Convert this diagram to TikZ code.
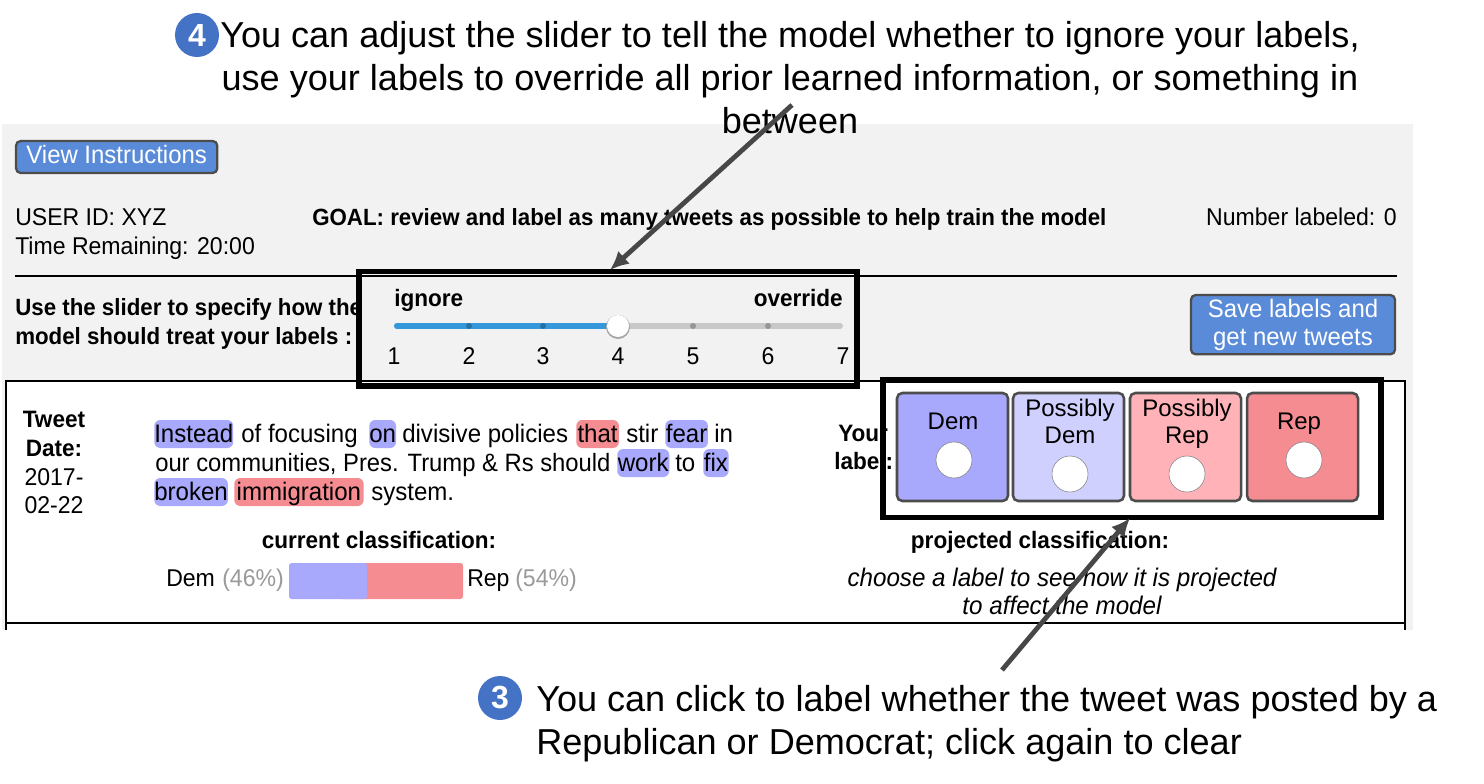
\documentclass[tikz,border=0pt]{standalone}
\usepackage{fontspec}
\usepackage{xcolor}
\usetikzlibrary{arrows.meta,positioning,fit}
\setmainfont{Liberation Sans}
\newfontfamily\uifont[FakeStretch=0.95]{Liberation Sans}
\definecolor{panelgray}{HTML}{F2F2F2}
\definecolor{btnblue}{HTML}{5A8BD8}
\definecolor{demblue}{HTML}{A8A8FC}
\definecolor{demlight}{HTML}{D0D0FE}
\definecolor{reppink}{HTML}{FFB3B8}
\definecolor{repred}{HTML}{F48C92}
\definecolor{trackblue}{HTML}{3498DB}
\definecolor{trackgray}{HTML}{C8C8C8}
\definecolor{notecircle}{HTML}{4472C4}
\definecolor{pctgray}{HTML}{9A9A9A}
\begin{document}
\begin{tikzpicture}[
    x=0.75pt,y=-0.75pt,
    note/.style={inner sep=0pt,font=\fontsize{27.05}{32.2}\selectfont},
    ui/.style={inner sep=0pt,font=\uifont\fontsize{18.2}{21}\selectfont},
    uib/.style={inner sep=0pt,font=\uifont\bfseries\fontsize{17.8}{21}\selectfont},
    uibs/.style={inner sep=0pt,font=\uifont\bfseries\fontsize{17.6}{21}\selectfont},
    tw/.style={inner sep=0pt,font=\uifont\fontsize{19}{21}\selectfont},
    hl/.style={tw,rounded corners=4.5pt,text height=16.5pt,text depth=4.5pt},
    btn/.style={draw=black!70,line width=1.7pt,outer sep=0pt,rounded corners=3.5pt,fill=btnblue,text=white,align=center,inner sep=0pt,font=\uifont\fontsize{18.9}{21}\selectfont},
    pick/.style={draw=black!70,line width=1.9pt,outer sep=0pt,rounded corners=4pt,minimum height=81pt,inner sep=0pt},
    dot/.style={circle,draw=black!50,fill=white,minimum size=27pt,inner sep=0pt},
    tick/.style={circle,fill=black,opacity=.25,minimum size=4.5pt,inner sep=0pt},
    frame/.style={draw=black,line width=4pt,outer sep=0pt,inner sep=0pt},
    num/.style={circle,fill=notecircle,text=white,minimum size=33pt,inner sep=0pt,font=\bfseries\fontsize{24}{24}\selectfont},
    arr/.style={-{Latex[length=14pt,width=13pt]},draw=black!72,line width=3.6pt}
]
\useasboundingbox (0,0) rectangle (1484,784);
% page
\node[fill=panelgray,minimum width=1411*0.75pt,minimum height=506*0.75pt,anchor=north west,inner sep=0pt] (panel) at (2,124) {};
\node[fill=white,minimum width=1399*0.75pt,minimum height=249*0.75pt,anchor=north west,inner sep=0pt] (card) at (6,381) {};
\draw[line width=0.9pt] (6,630) -- (6,381) -- (1405,381) -- (1405,630);
\draw[line width=1.8pt] (6,623) -- (1405,623);
\draw[line width=1.6pt] (15,276) -- (1397,276);

% header
\node[btn,anchor=north west,minimum width=151pt,minimum height=24pt,text height=12pt,text depth=2pt] (help) at (16,141) {View Instructions};
\node[ui,anchor=base west] (user) at (15,226) {USER ID: XYZ};
\node[ui,anchor=base west] (time) at (15,254) {Time Remaining: 20:00};
\node[uibs,anchor=base west] (goal) at (312,226) {GOAL: review and label as many tweets as possible to help train the model};
\node[ui,anchor=base east] (count) at (1397,226) {Number labeled: 0};
\node[uibs,anchor=base west] (use1) at (15,315) {Use the slider to specify how the};
\node[uibs,anchor=base west] (use2) at (15,344) {model should treat your labels :};

% slider
\node[uib,anchor=base west] (ignore) at (394,306) {ignore};
\node[uib,anchor=base east] (override) at (843,306) {override};
\draw[trackgray,line width=4.5pt,line cap=round] (397,326) -- (840,326);
\draw[trackblue,line width=4.5pt,line cap=round] (397,326) -- (618,326);
\foreach \i/\xx in {1/394,2/469,3/543,4/618,5/693,6/768,7/843}{
  \node[ui,anchor=base] (n\i) at (\xx,364) {\i};
}
\foreach \xx in {469,543,693,768}{
  \node[tick] at (\xx,326) {};
}
\node[circle,fill=black!35,minimum size=18pt,inner sep=0pt] (shade) at (618,327) {};
\node[circle,fill=white,minimum size=16.5pt,inner sep=0pt] (thumb) at (618,326) {};
\node[btn,anchor=north west,minimum width=153pt,minimum height=44.5pt] (save) at (1191,295) {Save labels and\\get new tweets};

% tweet
\node[uib,anchor=base] (tw1) at (54,427) {Tweet};
\node[uib,anchor=base] (tw2) at (54,456) {Date:};
\node[ui,anchor=base] (tw3) at (54,485) {2017-};
\node[ui,anchor=base] (tw4) at (54,513) {02-22};

\node[hl,fill=demblue,anchor=base west,minimum width=59pt] (w1) at (154,442) {Instead};
\node[tw,anchor=base west] (w2) at (241,442) {of focusing};
\node[hl,fill=demblue,anchor=base west,minimum width=20pt] (w3) at (369,442) {on};
\node[tw,anchor=base west] (w4) at (402,442) {divisive policies};
\node[hl,fill=repred,anchor=base west,minimum width=32pt] (w5) at (576,442) {that};
\node[tw,anchor=base west] (w6) at (626,442) {stir};
\node[hl,fill=demblue,anchor=base west,minimum width=32pt] (w7) at (665,442) {fear};
\node[tw,anchor=base west] (w8) at (714,442) {in};
\node[tw,anchor=base west,font=\uifont\fontsize{18.8}{21}\selectfont] (w9) at (155,471) {our communities, Pres. Trump \& Rs should};
\node[hl,fill=demblue,anchor=base west,minimum width=39pt] (w10) at (617,471) {work};
\node[tw,anchor=base west] (w11) at (675,471) {to};
\node[hl,fill=demblue,anchor=base west,minimum width=19pt] (w12) at (703,471) {fix};
\node[hl,fill=demblue,anchor=base west,minimum width=55pt] (w13) at (154,500) {broken};
\node[hl,fill=repred,anchor=base west,minimum width=97pt] (w14) at (234,500) {immigration};
\node[tw,anchor=base west] (w15) at (371,500) {system.};

% current classification
\node[uib,anchor=base] (cur) at (379,548) {current classification:};
\node[ui,anchor=base west] (demtxt) at (166,586) {Dem};
\node[ui,anchor=base west,text=pctgray] (dempct) at (222,586) {(46\%)};
\fill[repred,rounded corners=2pt] (340,563) rectangle (463,599);
\fill[demblue,rounded corners=2pt] (289,563) rectangle (367,599);
\node[inner sep=0pt,fit={(289,563) (463,599)}] (bar) {};
\node[ui,anchor=base west] (reptxt) at (467,586) {Rep};
\node[ui,anchor=base west,text=pctgray] (reppct) at (515,586) {(54\%)};

% label buttons
\node[uib,anchor=base west] (your) at (838,441) {Your};
\node[uib,anchor=base west] (lab) at (834,469) {label:};
\foreach \nm/\xl/\bw/\col/\txt/\tx/\dx/\dy in {dem/897/111/demblue/Dem/953/954/460,pdem/1013/111/demlight/{Possibly\\Dem}/1070/1070/474,prep/1130/111/reppink/{Possibly\\Rep}/1187/1187/474,rep/1247/111/repred/Rep/1299/1304/460}{
  \node[pick,fill=\col,anchor=north west,minimum width=\bw*0.75pt] (\nm) at (\xl,393) {};
  \node[dot] (\nm dot) at (\dx,\dy) {};
  \node[align=center,inner sep=0pt,anchor=south,text depth=4pt,font=\fontsize{18}{20.2}\selectfont] (\nm txt) at (\tx,\dy-24.7) {\txt};
}
\node[uib,anchor=base] (proj) at (1040,548) {projected classification:};
\node[ui,anchor=base,font=\uifont\itshape\fontsize{19.1}{21}\selectfont] (ch1) at (1062,586) {choose a label to see how it is projected};
\node[ui,anchor=base,font=\uifont\itshape\fontsize{19.1}{21}\selectfont] (ch2) at (1062,614) {to affect the model};

% marks on top
\node[frame,anchor=north west,minimum width=498*0.75pt,minimum height=114.5*0.75pt] (sliderbox) at (359,271.5) {};
\node[frame,anchor=north west,minimum width=498*0.75pt,minimum height=137.5*0.75pt] (labelbox) at (883,380) {};

% notes
\node[note,align=center] (note4) at (790,78) {You can adjust the slider to tell the model whether to ignore your labels,\\use your labels to override all prior learned information, or something in\\between};
\node[num] (badge4) at (197,35) {4};
\node[note,align=left,anchor=north west] (note3) at (536,685) {You can click to label whether the tweet was posted by a\\Republican or Democrat; click again to clear};
\node[num] (badge3) at (500,698) {3};

\coordinate (from4) at (792,105);
\coordinate (to4) at (610,270);
\coordinate (from3) at (1002,670);
\coordinate (to3) at (1130,518);
\draw[arr] (from4) -- (to4);
\draw[arr] (from3) -- (to3);
\end{tikzpicture}
\end{document}
